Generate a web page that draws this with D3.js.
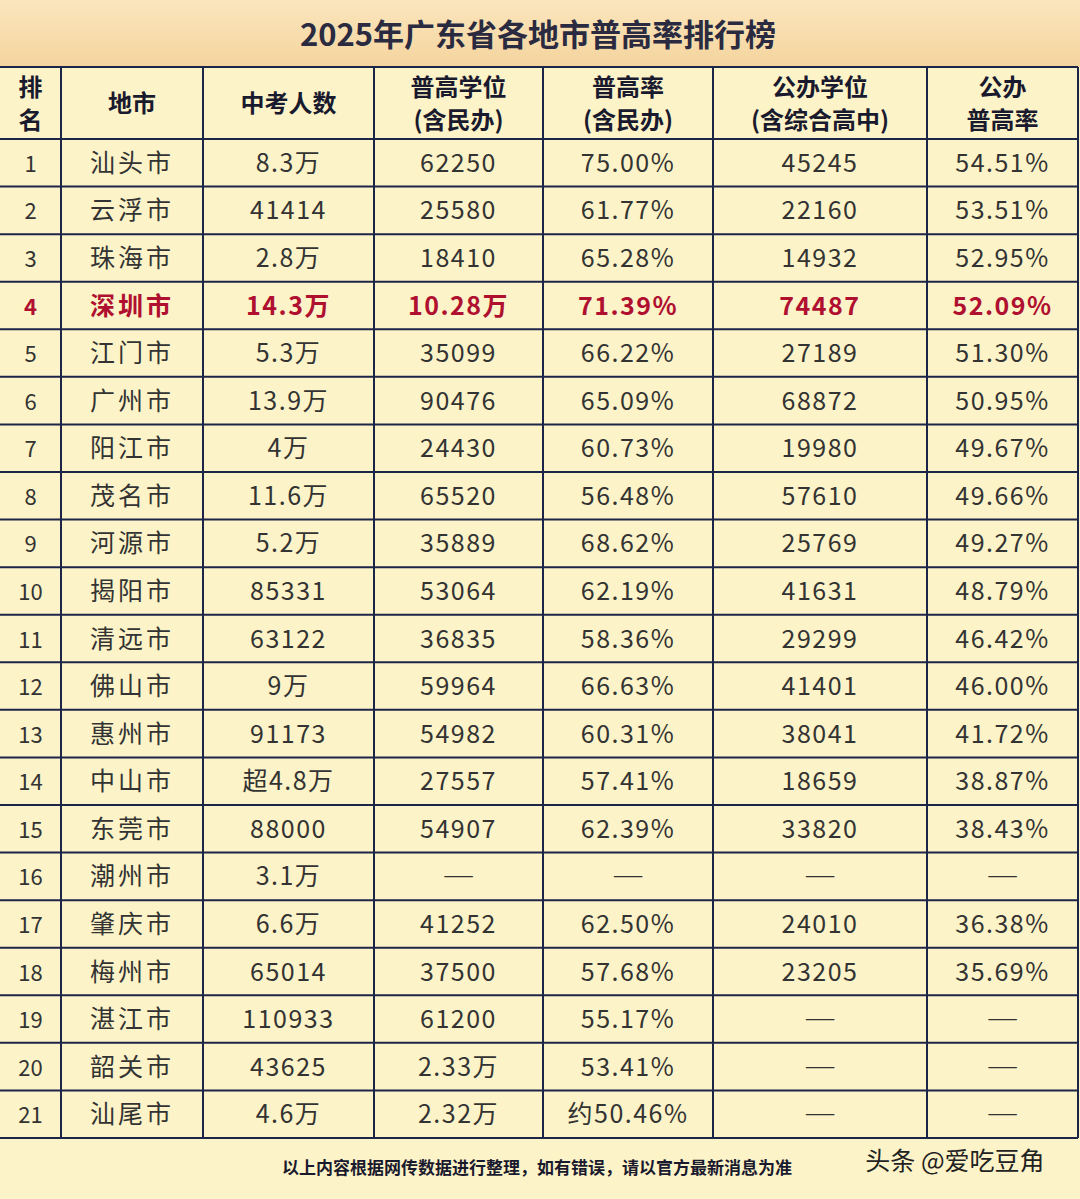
<!DOCTYPE html>
<html><head><meta charset="utf-8">
<script src="https://cdn.jsdelivr.net/npm/d3@7"></script>
<style>body{margin:0;background:#fdf3c8;}svg{display:block;}</style>
</head><body><svg id="chart"></svg>
<script>
const title = '2025年广东省各地市普高率排行榜';
const headers = [['排', '名'], ['地市'], ['中考人数'], ['普高学位', '(含民办)'], ['普高率', '(含民办)'], ['公办学位', '(含综合高中)'], ['公办', '普高率']];
const ranks = d3.range(1, 22).map(String);
const cities = ['汕头市','云浮市','珠海市','深圳市','江门市','广州市','阳江市','茂名市','河源市','揭阳市','清远市','佛山市','惠州市','中山市','东莞市','潮州市','肇庆市','梅州市','湛江市','韶关市','汕尾市'];
const examinees = ['8.3万','41414','2.8万','14.3万','5.3万','13.9万','4万','11.6万','5.2万','85331','63122','9万','91173','超4.8万','88000','3.1万','6.6万','65014','110933','43625','4.6万'];
const seats = ['62250','25580','18410','10.28万','35099','90476','24430','65520','35889','53064','36835','59964','54982','27557','54907','—','41252','37500','61200','2.33万','2.32万'];
const rates = ['75.00%','61.77%','65.28%','71.39%','66.22%','65.09%','60.73%','56.48%','68.62%','62.19%','58.36%','66.63%','60.31%','57.41%','62.39%','—','62.50%','57.68%','55.17%','53.41%','约50.46%'];
const publicSeats = ['45245','22160','14932','74487','27189','68872','19980','57610','25769','41631','29299','41401','38041','18659','33820','—','24010','23205','—','—','—'];
const publicRates = ['54.51%','53.51%','52.95%','52.09%','51.30%','50.95%','49.67%','49.66%','49.27%','48.79%','46.42%','46.00%','41.72%','38.87%','38.43%','—','36.38%','35.69%','—','—','—'];
const highlight = '深圳市';
const footer = '以上内容根据网传数据进行整理，如有错误，请以官方最新消息为准';
const watermark = '头条 @爱吃豆角';

const W = 1080, H = 1199;
const colEdges = [0, 61, 203, 374, 543, 713, 927, 1078];
const headTop = 67, headBottom = 139, tableBottom = 1138;
const columns = [ranks, cities, examinees, seats, rates, publicSeats, publicRates];

const svg = d3.select('#chart').attr('width', W).attr('height', H);
const font = '"Noto Sans CJK SC", sans-serif';

// title band
const grad = svg.append('defs').append('linearGradient').attr('id', 'tg').attr('x1', 0).attr('x2', 0).attr('y1', 0).attr('y2', 1);
grad.append('stop').attr('offset', '0%').attr('stop-color', '#fbe6bd');
grad.append('stop').attr('offset', '100%').attr('stop-color', '#f4d49e');
svg.append('rect').attr('width', W).attr('height', headTop).attr('fill', 'url(#tg)');
svg.append('rect').attr('y', headTop).attr('width', W).attr('height', H - headTop).attr('fill', '#fdf3c8');
svg.append('text').attr('x', W / 2 - 2).attr('y', 46).attr('text-anchor', 'middle')
  .attr('font-family', font).attr('font-weight', 700).attr('font-size', 31).attr('fill', '#2a2a40').text(title);

const y = d3.scaleBand().domain(ranks).range([headBottom, tableBottom]);
const cx = i => (colEdges[i] + colEdges[i + 1]) / 2;

// header
headers.forEach((lines, i) => {
  const t = svg.append('text').attr('text-anchor', 'middle').attr('font-family', font)
    .attr('font-weight', 700).attr('font-size', 24).attr('fill', '#1a1a2e');
  lines.forEach((l, j) => {
    t.append('tspan').attr('x', cx(i))
      .attr('y', lines.length === 1 ? 112 : 96 + j * 33).text(l);
  });
});

// body cells
columns.forEach((col, i) => {
  svg.append('g').selectAll('text').data(col).join('text')
    .attr('x', cx(i))
    .attr('y', (d, r) => y(ranks[r]) + y.bandwidth() / 2 + (d === '—' ? 6 : 9))
    .attr('text-anchor', 'middle').attr('font-family', font)
    .attr('font-size', d => d === '—' ? 18 : i === 0 ? 22 : 25)
    .attr('font-weight', (d, r) => cities[r] === highlight ? 700 : 400)
    .attr('fill', (d, r) => cities[r] === highlight ? '#b01030' : '#333')
    .attr('letter-spacing', d => d === '—' ? 0 : i === 1 ? 3 : i === 0 ? 0 : 1.5)
    .text(d => d === '—' ? '——' : d);
});

// grid lines
const lineColor = '#1c2448';
const g = svg.append('g').attr('stroke', lineColor).attr('stroke-width', 2);
[headTop, headBottom, ...ranks.map(r => y(r) + y.bandwidth())].forEach(v =>
  g.append('line').attr('x1', 0).attr('x2', colEdges[7]).attr('y1', v).attr('y2', v));
colEdges.slice(1).forEach(v =>
  g.append('line').attr('x1', v).attr('x2', v).attr('y1', headTop).attr('y2', tableBottom));

// footer
svg.append('text').attr('x', 537).attr('y', 1174).attr('text-anchor', 'middle')
  .attr('font-family', font).attr('font-weight', 700).attr('font-size', 17).attr('fill', '#1a1a2e').text(footer);
svg.append('text').attr('x', 955).attr('y', 1170).attr('text-anchor', 'middle')
  .attr('font-family', font).attr('font-size', 25).attr('fill', '#222').text(watermark);
</script></body></html>
